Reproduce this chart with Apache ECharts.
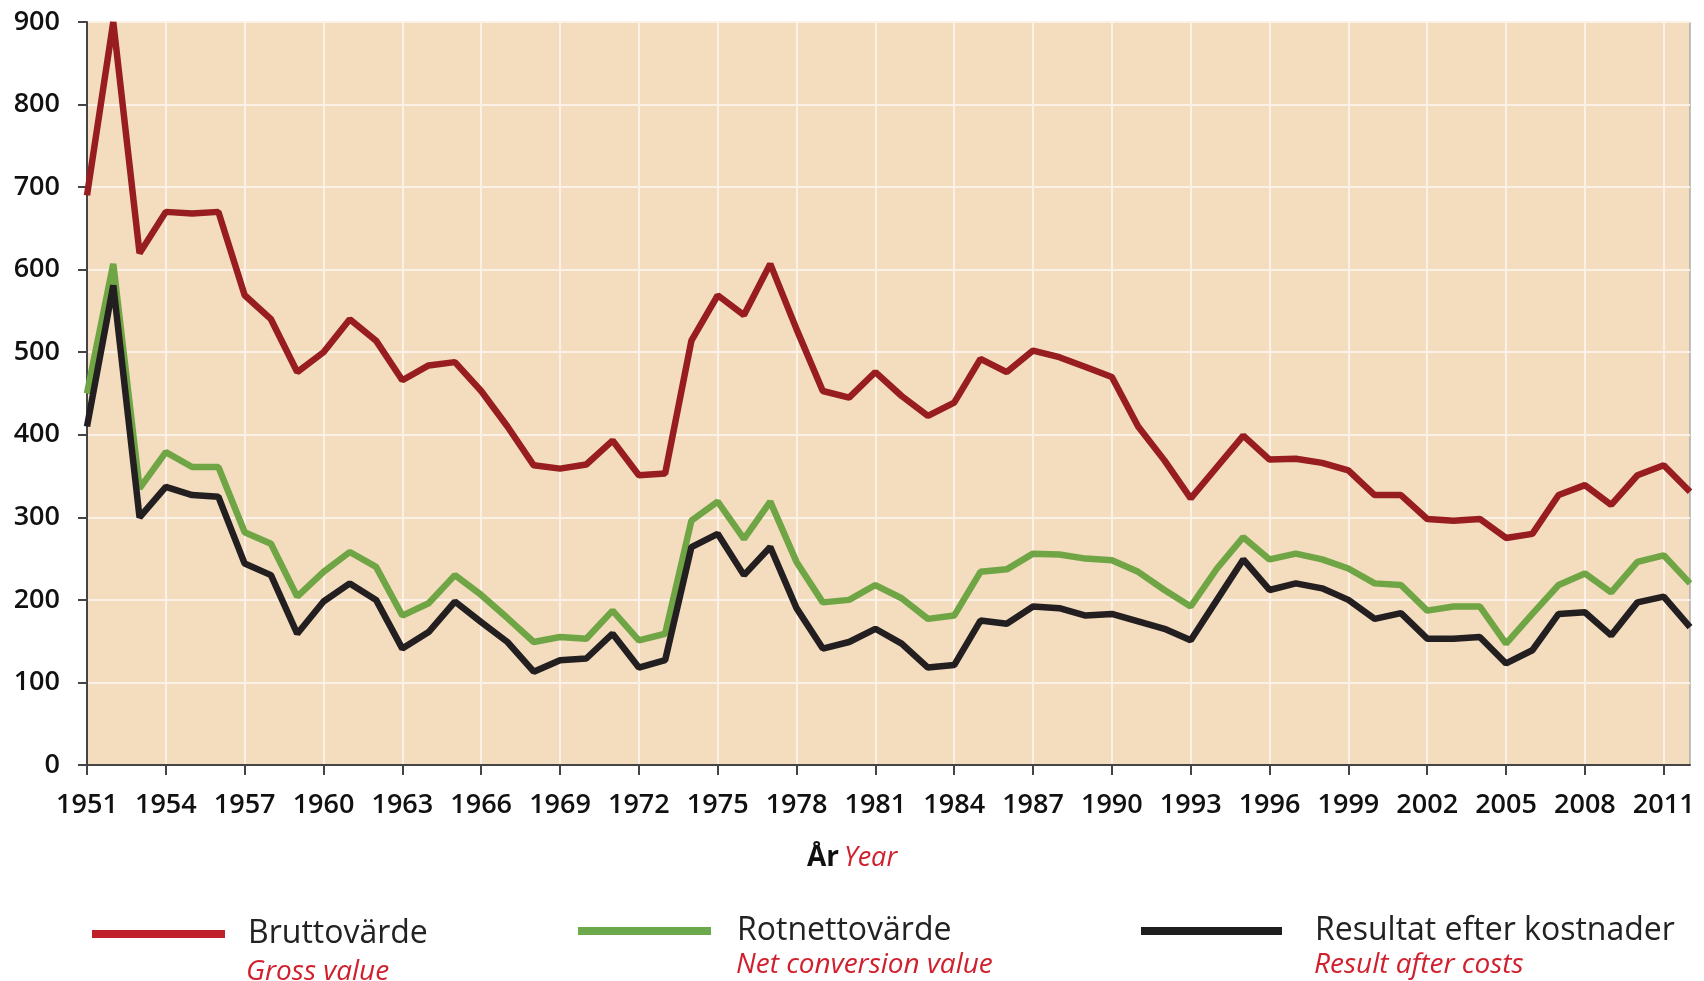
<!DOCTYPE html>
<html>
<head>
<meta charset="utf-8">
<title>Bruttovärde, rotnettovärde och resultat</title>
<script src="https://cdn.jsdelivr.net/npm/echarts@6/dist/echarts.min.js"></script>
<style>
  html, body { margin: 0; padding: 0; background: #fff; }
  #chart { width: 1704px; height: 981px; }
</style>
</head>
<body>
<div id="chart"></div>
<script>
// years 1951 - 2012
const years = []
for (let y = 1951; y <= 2012; y++) years.push(String(y))

const bruttovarde = [
  690, 900, 620, 670, 668, 670, 569, 540, 476, 500,
  540, 514, 466, 484, 488, 453, 410, 363, 359, 364,
  393, 351, 353, 514, 569, 545, 607, 528, 453, 445,
  476, 447, 423, 439, 492, 476, 502, 494, 482, 470,
  410, 369, 323, 361, 399, 370, 371, 366, 357, 327,
  327, 298, 296, 298, 275, 280, 327, 339, 315, 351,
  363, 331
]

const rotnettovarde = [
  450, 607, 335, 379, 361, 361, 282, 268, 204, 234,
  258, 240, 181, 196, 230, 206, 178, 149, 155, 153,
  187, 151, 159, 296, 319, 274, 319, 246, 197, 200,
  218, 202, 177, 181, 234, 237, 256, 255, 250, 248,
  234, 212, 192, 238, 276, 249, 256, 249, 238, 220,
  218, 187, 192, 192, 147, 183, 218, 232, 209, 246,
  254, 220
]

const resultat = [
  410, 581, 300, 337, 327, 325, 244, 230, 159, 198,
  220, 200, 141, 161, 198, 173, 149, 113, 127, 129,
  159, 118, 127, 264, 280, 230, 264, 190, 141, 149,
  165, 147, 118, 121, 175, 171, 192, 190, 181, 183,
  174, 165, 151, 200, 249, 212, 220, 214, 200, 177,
  184, 153, 153, 155, 123, 139, 183, 185, 157, 197,
  204, 167
]

const seriesNames = ['Bruttovärde', 'Rotnettovärde', 'Resultat efter kostnader']
const seriesNamesEn = ['Gross value', 'Net conversion value', 'Result after costs']

const RED = '#981D21'
const GREEN = '#6FA544'
const BLACK = '#231F20'
const ENG_RED = '#D0202E'
const FONT = '"Open Sans", "Noto Sans", sans-serif'

const chart = echarts.init(document.getElementById('chart'), null, { renderer: 'canvas' })

// one legend per item so each can sit where the original has it
function legendAt(name, left, top, width, color, gap) {
  return {
    data: [{ name: name, itemStyle: { color: color } }],
    left: left,
    top: top,
    icon: 'rect',
    itemWidth: width,
    itemHeight: 8,
    selectedMode: false,
    textStyle: {
      fontFamily: FONT,
      fontSize: 32,
      color: '#222',
      padding: [0, 0, 0, gap]
    }
  }
}

function subText(text, left, top) {
  return {
    type: 'text',
    left: left,
    top: top,
    style: {
      text: text,
      fontFamily: FONT,
      fontStyle: 'italic',
      fontSize: 28,
      fill: ENG_RED
    }
  }
}

chart.setOption({
  animation: false,
  title: {
    left: 'center',
    top: 839,
    text: '{a|År} {b|Year}',
    textStyle: {
      rich: {
        a: { fontFamily: FONT, fontSize: 28, fontWeight: 'bold', color: '#111' },
        b: { fontFamily: FONT, fontSize: 27, fontStyle: 'italic', fontWeight: 'normal', color: ENG_RED }
      }
    }
  },
  legend: [
    legendAt(seriesNames[0], 87, 913, 133, '#C0202A', 18),
    legendAt(seriesNames[1], 573, 910, 133, '#6CA84C', 21),
    legendAt(seriesNames[2], 1136, 910, 141, '#1E1E1E', 28)
  ],
  graphic: [
    subText(seriesNamesEn[0], 246, 958),
    subText(seriesNamesEn[1], 736, 951),
    subText(seriesNamesEn[2], 1314, 951)
  ],
  grid: {
    left: 87,
    right: 14,
    top: 22,
    bottom: 216,
    show: true,
    backgroundColor: '#F4DCBF',
    borderColor: '#8A8A8A',
    borderWidth: 1
  },
  xAxis: {
    type: 'category',
    data: years,
    boundaryGap: false,
    axisLine: { lineStyle: { color: '#444', width: 2 } },
    axisTick: { interval: 2, length: 10, lineStyle: { color: '#444', width: 2 } },
    axisLabel: {
      interval: 2,
      margin: 27,
      fontFamily: FONT,
      fontSize: 27,
      fontWeight: 600,
      color: '#111'
    },
    splitLine: { show: true, interval: 2, lineStyle: { color: '#FBF1E6', width: 2 } }
  },
  yAxis: {
    type: 'value',
    min: 0,
    max: 900,
    interval: 100,
    axisLine: { show: true, lineStyle: { color: '#444', width: 2 } },
    axisTick: { show: true, length: 9, lineStyle: { color: '#444', width: 2 } },
    axisLabel: {
      margin: 27,
      fontFamily: FONT,
      fontSize: 27,
      fontWeight: 600,
      color: '#111'
    },
    splitLine: { lineStyle: { color: '#FBF1E6', width: 2 } }
  },
  series: [
    {
      name: seriesNames[0],
      type: 'line',
      data: bruttovarde,
      symbol: 'none',
      lineStyle: { color: RED, width: 6.5 },
      itemStyle: { color: RED }
    },
    {
      name: seriesNames[1],
      type: 'line',
      data: rotnettovarde,
      symbol: 'none',
      lineStyle: { color: GREEN, width: 6.5 },
      itemStyle: { color: GREEN }
    },
    {
      name: seriesNames[2],
      type: 'line',
      data: resultat,
      symbol: 'none',
      lineStyle: { color: BLACK, width: 6.5 },
      itemStyle: { color: BLACK }
    }
  ]
})
</script>
</body>
</html>
